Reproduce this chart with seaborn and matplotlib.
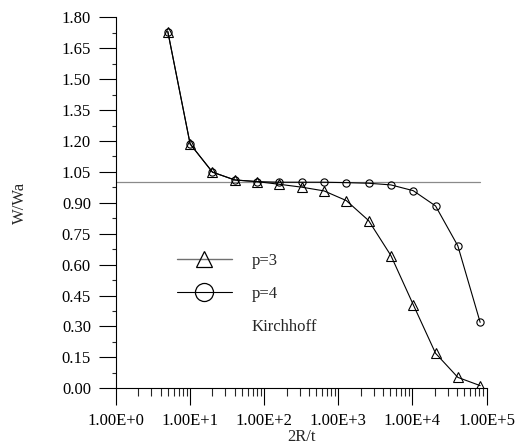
import matplotlib
matplotlib.use("Agg")
import matplotlib.pyplot as plt
from matplotlib.lines import Line2D
import numpy as np
import pandas as pd
import seaborn as sns

# ------------------------------------------------------------------ #
# Data
# ------------------------------------------------------------------ #
ratio = [5, 10, 20, 40, 80, 160, 320, 640, 1280, 2560, 5120,
         10240, 20480, 40960, 81920]
w_p3 = [1.731, 1.186, 1.049, 1.011, 1.003, 0.990, 0.976, 0.958, 0.911,
        0.814, 0.644, 0.406, 0.170, 0.053, 0.013]
w_p4 = [1.731, 1.186, 1.049, 1.011, 1.003, 1.000, 1.000, 1.000, 0.998,
        0.995, 0.987, 0.959, 0.885, 0.691, 0.320]
kirchhoff_x = [1, 81920]
kirchhoff_w = [1.0, 1.0]

x_ticks = [1, 10, 100, 1000, 10000, 100000]
x_tick_labels = ["1.00E+0", "1.00E+1", "1.00E+2", "1.00E+3", "1.00E+4", "1.00E+5"]
y_ticks = [0.00, 0.15, 0.30, 0.45, 0.60, 0.75, 0.90, 1.05, 1.20, 1.35, 1.50, 1.65, 1.80]

df = pd.DataFrame({"2R/t": ratio * 2,
                   "W/Wa": w_p3 + w_p4,
                   "p": ["p=3"] * len(ratio) + ["p=4"] * len(ratio)})
kdf = pd.DataFrame({"2R/t": kirchhoff_x, "W/Wa": kirchhoff_w})

sns.set_style("ticks")
plt.rcParams["font.family"] = ["Liberation Serif", "DejaVu Serif"]
plt.rcParams["font.size"] = 12

fig = plt.figure(figsize=(5.16, 4.45), dpi=100)
ax = fig.add_axes([0.2248, 0.1274, 0.943 - 0.2248, 0.961 - 0.1274])

sns.lineplot(data=kdf, x="2R/t", y="W/Wa", ax=ax, color="#8a8a8a", lw=0.9)
sns.lineplot(data=df[df.p == "p=3"], x="2R/t", y="W/Wa", ax=ax, color="black",
             lw=0.8, marker="^", ms=6.5, mfc="none", mec="black", mew=0.8)
sns.lineplot(data=df[df.p == "p=4"], x="2R/t", y="W/Wa", ax=ax, color="black",
             lw=0.8, marker="o", ms=5.2, mfc="none", mec="black", mew=0.8)

ax.set_xscale("log")
ax.set_xlim(1, 100000)
ax.set_ylim(0, 1.80)
ax.set_xticks(x_ticks)
ax.set_xticklabels(x_tick_labels)
ax.set_yticks(y_ticks)
ax.set_yticklabels([f"{v:.2f}" for v in y_ticks])
ax.xaxis.set_minor_locator(matplotlib.ticker.LogLocator(base=10, subs=np.arange(2, 10)))
ax.xaxis.set_minor_formatter(matplotlib.ticker.NullFormatter())
ax.yaxis.set_minor_locator(matplotlib.ticker.MultipleLocator(0.075))

ax.tick_params(axis="both", which="major", direction="out", length=12, width=0.8,
               colors="black", labelsize=12)
ax.tick_params(axis="x", which="major", pad=6)
ax.tick_params(axis="y", which="major", pad=6)
ax.tick_params(axis="x", which="minor", direction="out", length=6, width=0.8)
ax.tick_params(axis="y", which="minor", direction="out", length=3, width=0.8)

sns.despine(ax=ax)
for s in ("left", "bottom"):
    ax.spines[s].set_linewidth(0.8)
    ax.spines[s].set_color("black")

ax.set_xlabel("2R/t", labelpad=0, fontsize=12)
ax.set_ylabel("W/Wa", labelpad=24, fontsize=12)

handles = [
    Line2D([], [], color="#707070", lw=1.0, marker="^", ms=12, mfc="none",
           mec="black", mew=0.9),
    Line2D([], [], color="black", lw=0.8, marker="o", ms=13, mfc="none", mew=0.9),
    Line2D([], [], color="none"),
]
ax.legend(handles, ["p=3", "p=4", "Kirchhoff"], loc="upper left",
          bbox_to_anchor=(0.1637, 0.364), frameon=False, borderpad=0,
          borderaxespad=0, handlelength=3.3, handletextpad=1.2,
          labelspacing=1.0, fontsize=12)

fig.savefig("out.png", dpi=100)
